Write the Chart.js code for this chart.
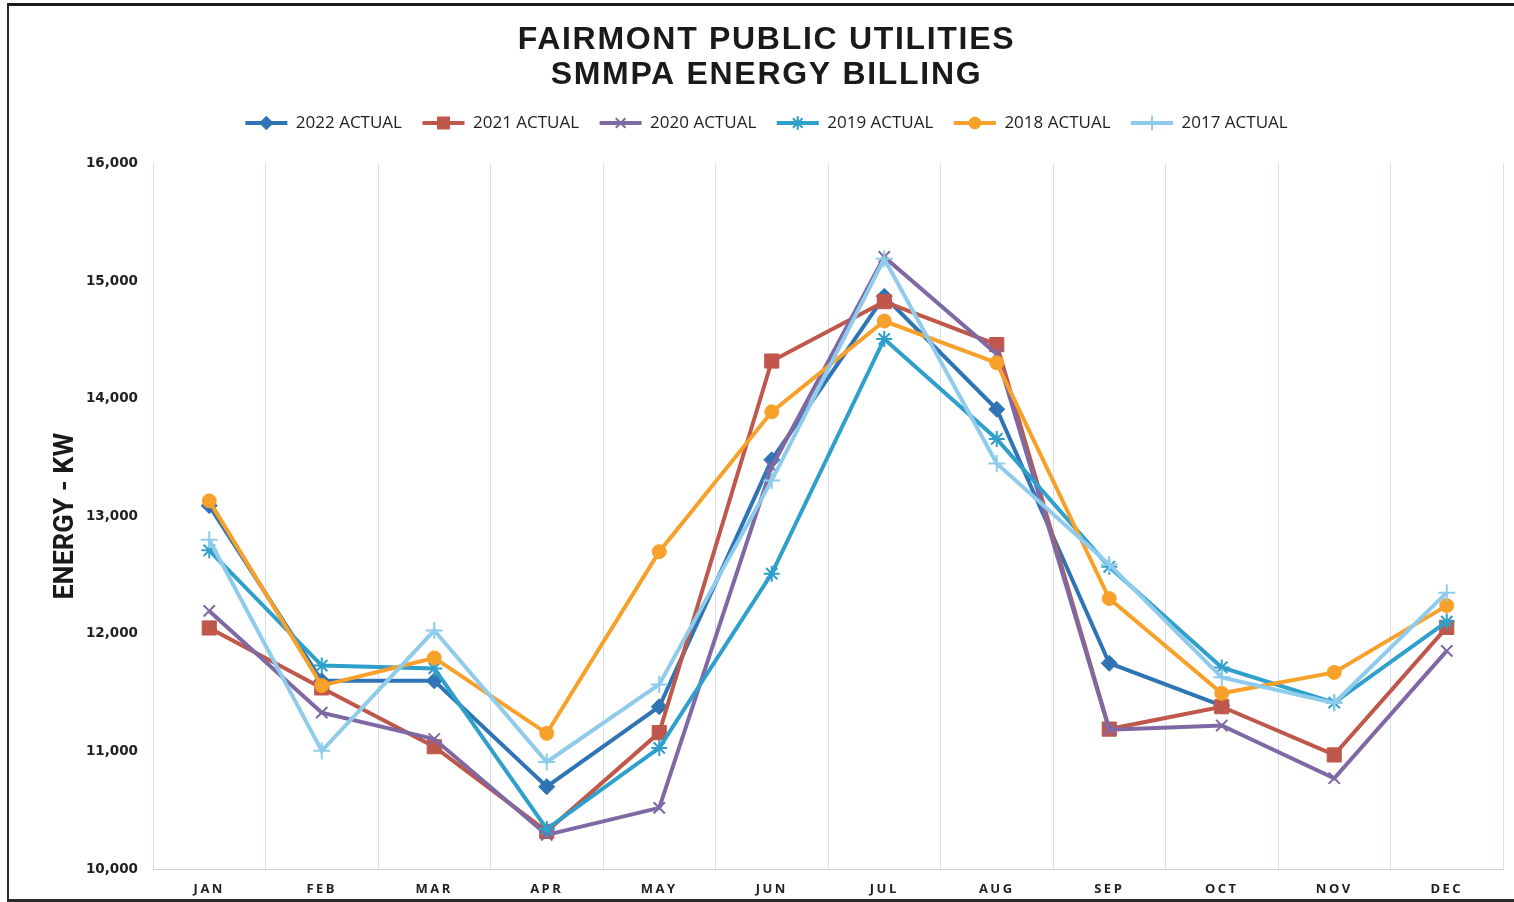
<!DOCTYPE html>
<html><head><meta charset="utf-8">
<script src="https://cdn.jsdelivr.net/npm/chart.js@4.4.0/dist/chart.umd.min.js"></script>
<style>
html,body{margin:0;padding:0;background:#fff;}
#wrap{position:relative;width:1514px;height:902px;overflow:hidden;background:#fff;}
#c{position:absolute;left:0;top:0;}
#frame{position:absolute;left:7px;top:3px;width:1520px;height:893px;border-top:3px solid #1c1c1c;border-left:2px solid #2a2a2a;border-bottom:3px solid #2a2a2a;pointer-events:none;}
</style></head><body>
<div id="wrap"><canvas id="c" width="1514" height="902"></canvas><div id="frame"></div></div>
<script>
const months = ['JAN','FEB','MAR','APR','MAY','JUN','JUL','AUG','SEP','OCT','NOV','DEC'];
const yTicks = [10000, 11000, 12000, 13000, 14000, 15000, 16000];
const actual2022 = [13090, 11600, 11600, 10700, 11380, 13480, 14870, 13910, 11750, 11390, null, null];
const actual2021 = [12050, 11540, 11040, 10320, 11160, 14320, 14825, 14460, 11190, 11380, 10970, 12055];
const actual2020 = [12195, 11330, 11105, 10290, 10520, 13420, 15205, 14380, 11185, 11220, 10772, 11855];
const actual2019 = [12710, 11730, 11706, 10340, 11030, 12512, 14508, 13658, 12570, 11714, 11415, 12104];
const actual2018 = [13131, 11560, 11795, 11154, 12699, 13888, 14660, 14305, 12300, 11494, 11672, 12240];
const actual2017 = [12800, 11005, 12028, 10910, 11570, 13305, 15190, 13448, 12590, 11630, 11412, 12350];
const seriesNames = ['2022 ACTUAL','2021 ACTUAL','2020 ACTUAL','2019 ACTUAL','2018 ACTUAL','2017 ACTUAL'];

const colors = ['#2F74B5','#BF584A','#7F69A5','#2FA0CB','#F7A12A','#8FCCEC'];
const styles = ['rectRot','rect','crossRot','star','circle','cross'];
const radii = [8, 10, 8, 8, 7, 8.5];
const allData = [actual2022, actual2021, actual2020, actual2019, actual2018, actual2017];

const datasets = allData.map((d, i) => ({
  label: seriesNames[i],
  data: d,
  borderColor: colors[i],
  backgroundColor: colors[i],
  pointBackgroundColor: colors[i],
  pointBorderColor: colors[i],
  borderWidth: 4,
  pointStyle: styles[i],
  pointRadius: radii[i],
  pointBorderWidth: (styles[i] === 'cross' || styles[i] === 'crossRot' || styles[i] === 'star') ? 2 : 1,
  tension: 0,
  spanGaps: false,
  order: 6 - i
}));

const legendMarkers = {
  id: 'legendMarkers',
  afterDraw(chart) {
    const lg = chart.legend;
    if (!lg || !lg.legendHitBoxes) return;
    const ctx = chart.ctx;
    const bw = lg.options.labels.boxWidth;
    lg.legendItems.forEach((it, i) => {
      const hb = lg.legendHitBoxes[i];
      const ds = chart.data.datasets[it.datasetIndex];
      const cx = hb.left + bw / 2;
      const cy = hb.top + hb.height / 2;
      ctx.save();
      ctx.fillStyle = ds.borderColor;
      ctx.strokeStyle = ds.borderColor;
      ctx.lineWidth = ds.pointBorderWidth;
      Chart.helpers.drawPoint(ctx, {pointStyle: ds.pointStyle, radius: ds.pointRadius * 0.85, rotation: 0, borderWidth: ds.pointBorderWidth}, cx, cy);
      ctx.restore();
    });
  }
};

const LEGEND_EXTRA = 22;
const tweaks = {
  id: 'tweaks',
  beforeLayout(chart) {
    const lg = chart.legend;
    if (lg && !lg._extraPatched) {
      lg._extraPatched = true;
      const of = lg.fit;
      lg.fit = function (...a) { of.apply(this, a); this.height += LEGEND_EXTRA; };
    }
  },
  beforeDraw(chart) {
    if (chart._spPatched) return;
    chart._spPatched = true;
    const wrap = (obj, name, sp) => {
      if (!obj) return;
      const orig = obj[name];
      obj[name] = function (...a) {
        const ctx = chart.ctx;
        ctx.save();
        ctx.letterSpacing = sp;
        const r = orig.apply(this, a);
        ctx.restore();
        return r;
      };
    };
    wrap(chart.titleBlock, 'draw', '1.7px');
    wrap(chart.scales.x, 'drawLabels', '2.5px');
  }
};

new Chart(document.getElementById('c'), {
  type: 'line',
  data: { labels: months, datasets },
  plugins: [tweaks, legendMarkers],
  options: {
    responsive: false,
    animation: false,
    devicePixelRatio: 1,
    layout: { padding: { left: 26, right: 7, top: 0, bottom: 0 } },
    plugins: {
      title: {
        display: true,
        text: ['FAIRMONT PUBLIC UTILITIES', 'SMMPA ENERGY BILLING'],
        color: '#1a1a1a',
        font: { family: "'Liberation Sans', Arial, sans-serif", size: 32, weight: 'bold', lineHeight: 1.09375 },
        padding: { top: 22.5, bottom: 1.5 }
      },
      legend: {
        display: true,
        position: 'top',
        labels: {
          sort: (a, b) => a.datasetIndex - b.datasetIndex,
          generateLabels: (chart) => Chart.defaults.plugins.legend.labels.generateLabels(chart).map(l => Object.assign(l, { lineWidth: 0 })),
          boxWidth: 42,
          boxHeight: 4,
          padding: 20.5,
          color: '#222',
          font: { family: "'Open Sans', sans-serif", size: 17 }
        }
      },
      tooltip: { enabled: false }
    },
    scales: {
      x: {
        offset: true,
        grid: { display: true, offset: true, color: '#D4E0EE', lineWidth: 1, drawTicks: false },
        border: { display: true, color: '#CFCFCF', width: 1 },
        ticks: { color: '#222', padding: 12, font: { family: "'Open Sans', sans-serif", size: 13, weight: 'bold' }, maxRotation: 0 },
        afterFit(s) { s.height = 33; }
      },
      y: {
        min: 10000,
        max: 16000,
        afterBuildTicks(s) { s.ticks = yTicks.map(v => ({ value: v })); },
        grid: { display: false, drawTicks: false },
        border: { display: false },
        ticks: {
          color: '#222',
          padding: 15,
          font: { family: "'DejaVu Sans', sans-serif", size: 13.5, weight: 'bold' },
          callback: (v) => Number(v).toLocaleString('en-US')
        },
        title: {
          display: true,
          text: 'ENERGY - KW',
          color: '#1a1a1a',
          font: { family: "Roboto, sans-serif", size: 27, weight: 'bold', lineHeight: 1.2 },
          padding: { top: 24, bottom: 0 }
        },
        afterFit(s) { s.width = 127; }
      }
    }
  }
});
</script>
</body></html>
